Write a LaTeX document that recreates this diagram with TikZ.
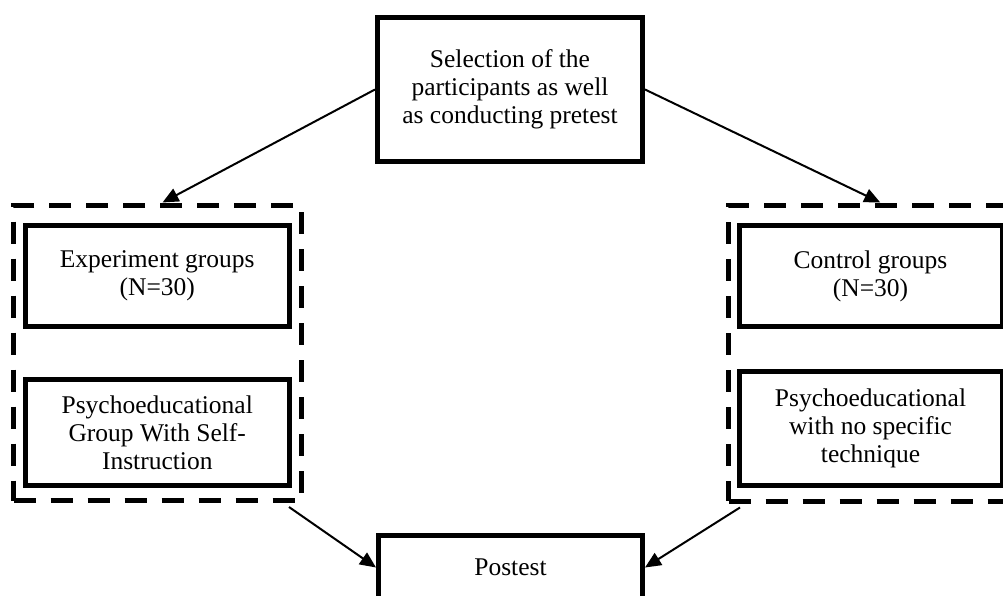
\documentclass[tikz,border=0pt]{standalone}
\usepackage{fontspec}
\setmainfont{Liberation Serif}
\usetikzlibrary{arrows.meta}
\begin{document}
\begin{tikzpicture}[x=1pt,y=-1pt,
  box/.style={draw, line width=5pt, inner sep=0pt, align=center, font=\fontsize{25.5}{28}\selectfont},
  grp/.style={draw, line width=5pt, dash pattern=on 22pt off 15pt, inner sep=0pt},
  arr/.style={line width=2pt, -{Triangle[length=16pt,width=14pt]}}]
\useasboundingbox (0,0) rectangle (1003,596);

\node[grp, minimum width=288pt, minimum height=295.5pt] (lgroup) at (157.5,352.75) {};
\node[grp, minimum width=287.5pt, minimum height=296pt] (rgroup) at (872.25,353) {};

\node[box, minimum width=265pt, minimum height=144.5pt] (sel) at (510,89.5)
  {Selection of the\\participants as well\\as conducting pretest};
\node[box, minimum width=263.5pt, minimum height=101pt] (expg) at (157.25,276)
  {Experiment groups\\(N=30)};
\node[box, minimum width=263.5pt, minimum height=106pt] (psyl) at (157.25,432.5)
  {Psychoeducational\\Group With Self-\\Instruction};
\node[box, minimum width=263pt, minimum height=101pt] (ctrl) at (870.5,276)
  {Control groups\\(N=30)};
\node[box, minimum width=263pt, minimum height=114pt] (psyr) at (870.5,428.5)
  {Psychoeducational\\with no specific\\technique};
\node[box, minimum width=264pt, minimum height=64pt] (post) at (510.5,567.5)
  {Postest};

\draw[arr] (sel.west) -- ([xshift=5pt]lgroup.north);
\draw[arr] (sel.east) -- ([xshift=8pt]rgroup.north);
\draw[arr] ([xshift=-15pt,yshift=-4pt]lgroup.south east) -- (post.west);
\draw[arr] ([xshift=14pt,yshift=-4pt]rgroup.south west) -- (post.east);
\end{tikzpicture}
\end{document}
